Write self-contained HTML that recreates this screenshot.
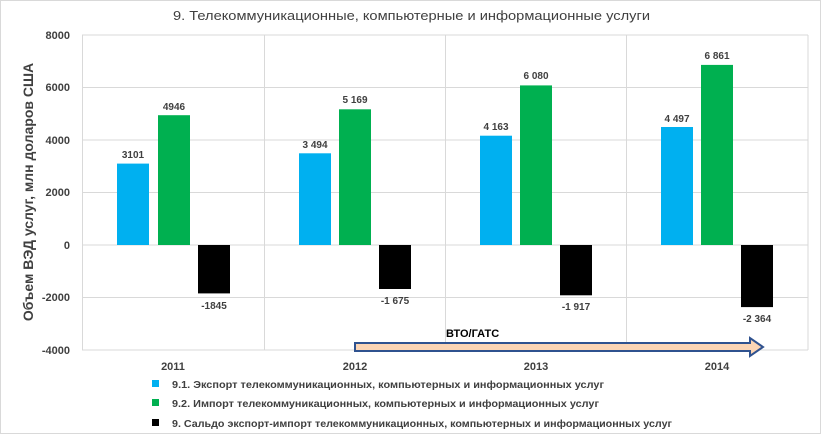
<!DOCTYPE html>
<html><head><meta charset="utf-8"><style>
body{margin:0;background:#fff}
svg{display:block;font-family:"Liberation Sans","DejaVu Sans",sans-serif}
</style></head><body>
<svg width="821" height="434" viewBox="0 0 821 434">
<rect x="0.5" y="0.5" width="820" height="433" fill="#fff" stroke="#d9d9d9"/>
<text x="173" y="20" font-size="13" fill="#404040" textLength="477" lengthAdjust="spacingAndGlyphs">9. Телекоммуникационные, компьютерные и информационные услуги</text>
<g stroke="#d9d9d9" stroke-width="1">
<line x1="82" y1="35" x2="808" y2="35"/><line x1="82" y1="87.5" x2="808" y2="87.5"/>
<line x1="82" y1="140" x2="808" y2="140"/><line x1="82" y1="192.5" x2="808" y2="192.5"/>
<line x1="82" y1="245" x2="808" y2="245"/><line x1="82" y1="297.5" x2="808" y2="297.5"/>
<line x1="82" y1="350" x2="808" y2="350"/>
<line x1="82.5" y1="35" x2="82.5" y2="350"/><line x1="264.5" y1="35" x2="264.5" y2="350"/>
<line x1="445.5" y1="35" x2="445.5" y2="350"/><line x1="626.5" y1="35" x2="626.5" y2="350"/>
<line x1="808" y1="35" x2="808" y2="350"/>
</g>
<g font-size="11" font-weight="bold" fill="#404040" text-anchor="end">
<text x="70" y="39">8000</text><text x="70" y="91">6000</text><text x="70" y="144">4000</text>
<text x="70" y="196">2000</text><text x="70" y="249">0</text><text x="70" y="301">-2000</text><text x="70" y="354">-4000</text>
</g>
<text transform="translate(33,192) rotate(-90)" font-size="14" font-weight="bold" fill="#404040" text-anchor="middle">Объем ВЭД услуг, млн доларов США</text>
<g font-size="11" font-weight="bold" fill="#404040" text-anchor="middle">
<text x="173" y="370">2011</text><text x="355" y="370">2012</text><text x="536" y="370">2013</text><text x="717" y="370">2014</text>
</g>
<g fill="#00b0f0">
<rect x="117" y="163.6" width="32" height="81.4"/><rect x="299" y="153.3" width="32" height="91.7"/>
<rect x="480" y="135.7" width="32" height="109.3"/><rect x="661" y="127" width="32" height="118"/>
</g>
<g fill="#00b050">
<rect x="158" y="115.2" width="32" height="129.8"/><rect x="339" y="109.3" width="32" height="135.7"/>
<rect x="520" y="85.4" width="32" height="159.6"/><rect x="701" y="64.9" width="32" height="180.1"/>
</g>
<g fill="#000">
<rect x="198" y="245" width="32" height="48.4"/><rect x="379" y="245" width="32" height="44"/>
<rect x="560" y="245" width="32" height="50.3"/><rect x="741" y="245" width="32" height="62.1"/>
</g>
<g font-size="10" font-weight="bold" fill="#404040" text-anchor="middle">
<text x="133" y="158">3101</text><text x="174" y="110">4946</text><text x="214" y="309">-1845</text>
<text x="315" y="148">3 494</text><text x="355" y="103">5 169</text><text x="395" y="304">-1 675</text>
<text x="496" y="130">4 163</text><text x="536" y="79">6 080</text><text x="576" y="310">-1 917</text>
<text x="677" y="122">4 497</text><text x="717" y="59">6 861</text><text x="757" y="322">-2 364</text>
</g>
<polygon points="355,343 750,343 750,338 763,347 750,356 750,351 355,351" fill="#fbd5b5" stroke="#2f528f" stroke-width="2"/>
<text x="446" y="337" font-size="11" font-weight="bold" fill="#000">ВТО/ГАТС</text>
<rect x="152" y="380" width="7" height="7" fill="#00b0f0"/>
<rect x="152" y="399" width="7" height="7" fill="#00b050"/>
<rect x="152" y="419" width="7" height="7" fill="#000"/>
<g font-size="10" font-weight="bold" fill="#404040" lengthAdjust="spacingAndGlyphs">
<text x="172" y="388" textLength="432" lengthAdjust="spacingAndGlyphs">9.1. Экспорт телекоммуникационных, компьютерных и информационных услуг</text>
<text x="172" y="407" textLength="427" lengthAdjust="spacingAndGlyphs">9.2.  Импорт телекоммуникационных, компьютерных и информационных услуг</text>
<text x="172" y="427" textLength="500" lengthAdjust="spacingAndGlyphs">9. Сальдо экспорт-импорт телекоммуникационных, компьютерных и информационных услуг</text>
</g>
</svg>
</body></html>
